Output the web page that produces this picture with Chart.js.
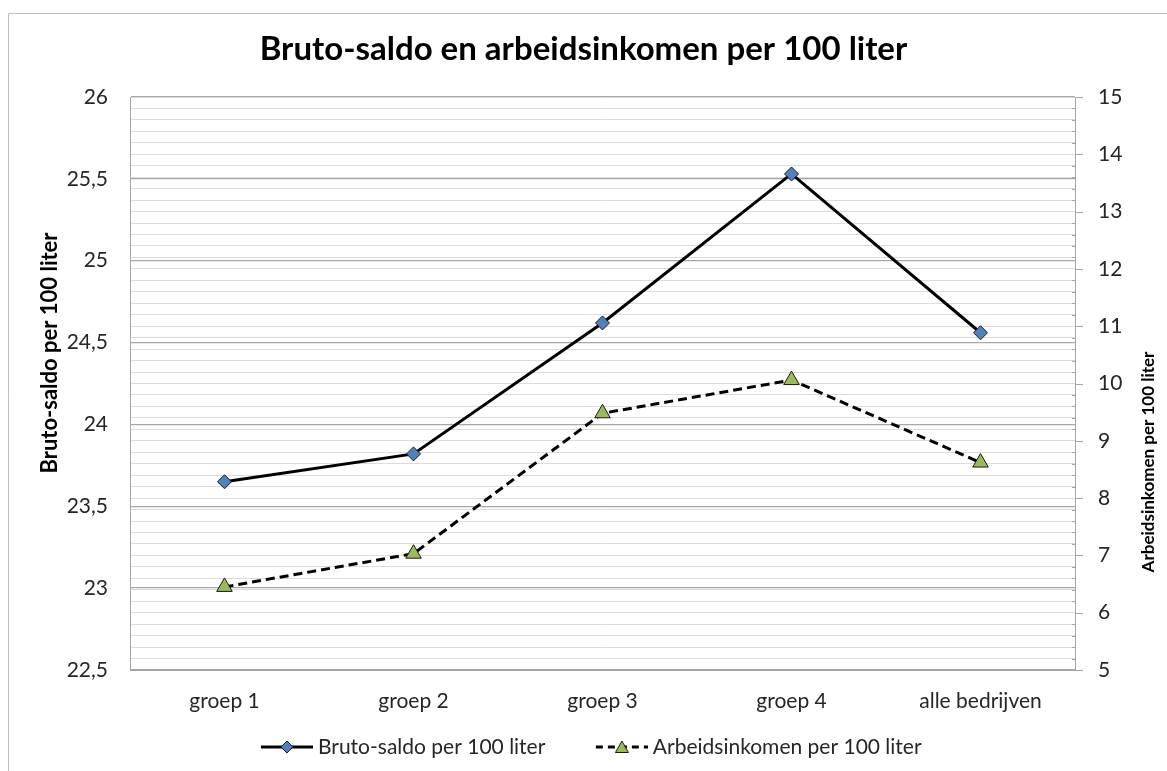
<!DOCTYPE html>
<html><head><meta charset="utf-8">
<script src="https://cdn.jsdelivr.net/npm/chart.js@4.4.1/dist/chart.umd.min.js"></script>
<style>html,body{margin:0;padding:0;background:#fff}#wrap{width:1167px;height:771px;position:relative}</style>
</head><body><div id="wrap"><canvas id="c" width="1167" height="771"></canvas></div>
<script>
const categories = ['groep 1', 'groep 2', 'groep 3', 'groep 4', 'alle bedrijven'];
const brutoSaldo = [23.65, 23.82, 24.62, 25.53, 24.56];
const arbeidsinkomen = [6.45, 7.03, 9.48, 10.06, 8.62];
const seriesNames = ['Bruto-saldo per 100 liter', 'Arbeidsinkomen per 100 liter'];
const leftAxisRange = [22.5, 26, 0.5];
const rightAxisRange = [5, 15, 0.2];
const chartTitle = 'Bruto-saldo en arbeidsinkomen per 100 liter';
const leftAxisTitle = 'Bruto-saldo per 100 liter';
const rightAxisTitle = 'Arbeidsinkomen per 100 liter';

const FONT = "Lato, 'Open Sans', sans-serif";
const TXT = '#262626';
const BLUE = '#4f81bd', GREEN = '#9bbb59';

// legend icon: blank area on the left, line + marker on the right part
function legendIcon(kind) {
  const c = document.createElement('canvas');
  c.width = 87; c.height = 18;
  const g = c.getContext('2d');
  const x0 = 35, x1 = 87, cx = 61;
  g.strokeStyle = '#000'; g.lineWidth = 3;
  if (kind === 'tri') g.setLineDash([7, 5]);
  g.beginPath(); g.moveTo(x0, 9); g.lineTo(x1, 9); g.stroke();
  g.setLineDash([]);
  g.lineWidth = 1; g.strokeStyle = '#1a1a1a';
  g.beginPath();
  if (kind === 'tri') {
    g.fillStyle = GREEN;
    g.moveTo(cx, 3); g.lineTo(cx + 6.5, 14.5); g.lineTo(cx - 6.5, 14.5); g.closePath();
  } else {
    g.fillStyle = BLUE;
    g.moveTo(cx, 3); g.lineTo(cx + 6, 9); g.lineTo(cx, 15); g.lineTo(cx - 6, 9); g.closePath();
  }
  g.fill(); g.stroke();
  return c;
}

const frame = {
  id: 'frame',
  afterLayout(chart) {
    if (chart.legend) { chart.legend.left -= 7; chart.legend.right -= 7; }
  },
  beforeDraw(chart) {
    const ctx = chart.ctx;
    ctx.save();
    ctx.strokeStyle = '#bfbfbf'; ctx.lineWidth = 1;
    ctx.beginPath(); ctx.moveTo(8.5, 800); ctx.lineTo(8.5, 13.5); ctx.lineTo(1200, 13.5); ctx.stroke();
    ctx.restore();
  },
  afterDraw(chart) {
    const ctx = chart.ctx;
    const y1 = chart.scales.y1;
    ctx.save();
    ctx.strokeStyle = '#a6a6a6'; ctx.lineWidth = 1;
    y1.ticks.forEach(t => {
      const y = Math.round(y1.getPixelForValue(t.value)) + 0.5;
      const major = Math.abs(t.value - Math.round(t.value)) < 1e-6;
      ctx.beginPath();
      if (major) { ctx.moveTo(y1.left, y); ctx.lineTo(y1.left + 8, y); }
      else { ctx.moveTo(y1.left - 3, y); ctx.lineTo(y1.left + 1, y); }
      ctx.stroke();
    });
    ctx.fillStyle = '#000';
    ctx.textAlign = 'center'; ctx.textBaseline = 'middle';
    ctx.font = 'bold 22px ' + FONT;
    ctx.translate(50, 353); ctx.rotate(-Math.PI / 2);
    ctx.fillText(leftAxisTitle, 0, 0);
    ctx.setTransform(1, 0, 0, 1, 0, 0);
    ctx.font = 'bold 17px ' + FONT;
    ctx.translate(1149, 462); ctx.rotate(-Math.PI / 2);
    ctx.fillText(rightAxisTitle, 0, 0);
    ctx.restore();
  }
};

const isWhole = v => Math.abs(v - Math.round(v)) < 1e-6;

new Chart(document.getElementById('c'), {
  type: 'line',
  data: {
    labels: categories,
    datasets: [
      {
        label: seriesNames[0], data: brutoSaldo, yAxisID: 'y',
        borderColor: '#000', borderWidth: 3, tension: 0,
        pointStyle: 'rectRot', pointRadius: 7, pointHoverRadius: 7,
        pointBackgroundColor: BLUE, pointBorderColor: '#1a1a1a', pointBorderWidth: 1,
        backgroundColor: BLUE
      },
      {
        label: seriesNames[1], data: arbeidsinkomen, yAxisID: 'y1',
        borderColor: '#000', borderWidth: 3, borderDash: [9, 5], tension: 0,
        pointStyle: 'triangle', pointRadius: 9, pointHoverRadius: 9,
        pointBackgroundColor: GREEN, pointBorderColor: '#1a1a1a', pointBorderWidth: 1,
        backgroundColor: GREEN
      }
    ]
  },
  options: {
    responsive: false, animation: false, devicePixelRatio: 1,
    layout: { padding: { left: 0, right: 0, top: 0, bottom: 3.5 } },
    plugins: {
      title: {
        display: true, text: chartTitle, color: '#000',
        font: { family: FONT, size: 33, weight: 'bold', lineHeight: 1.2 },
        padding: { top: 30, bottom: 27.4 }
      },
      legend: {
        position: 'bottom',
        labels: {
          usePointStyle: true, pointStyleWidth: 76, boxHeight: 18,
          color: TXT, font: { family: FONT, size: 21 }, padding: 21,
          generateLabels: (chart) => chart.data.datasets.map((d, i) => ({
            text: d.label, datasetIndex: i, hidden: false,
            pointStyle: legendIcon(i === 0 ? 'dia' : 'tri'),
            fontColor: TXT, lineWidth: 0, strokeStyle: 'transparent', fillStyle: 'transparent'
          }))
        }
      },
      tooltip: { enabled: false }
    },
    scales: {
      x: {
        offset: true,
        grid: { display: false, drawTicks: false },
        border: { display: true, color: '#a6a6a6', width: 1 },
        ticks: { color: TXT, font: { family: FONT, size: 21 }, padding: 19, maxRotation: 0 },
        afterFit: s => { s.height = 45.5; }
      },
      y: {
        position: 'left', min: leftAxisRange[0], max: leftAxisRange[1],
        ticks: {
          stepSize: leftAxisRange[2], color: TXT, font: { family: FONT, size: 21 }, padding: 22,
          callback: v => String(v).replace('.', ',')
        },
        grid: { color: '#a8a8a8', lineWidth: 1.3, drawTicks: false },
        border: { display: true, color: '#a6a6a6', width: 1 },
        afterFit: s => { s.width = 130; }
      },
      y1: {
        position: 'right', min: rightAxisRange[0], max: rightAxisRange[1],
        ticks: {
          stepSize: rightAxisRange[2], autoSkip: false, color: TXT, font: { family: FONT, size: 21 }, padding: 23,
          callback: v => isWhole(v) ? String(Math.round(v)) : ''
        },
        grid: { color: '#dcdcdc', lineWidth: 1, drawTicks: false },
        border: { display: true, color: '#a6a6a6', width: 1 },
        afterFit: s => { s.width = 92; }
      }
    }
  },
  plugins: [frame]
});
</script>
</body></html>
